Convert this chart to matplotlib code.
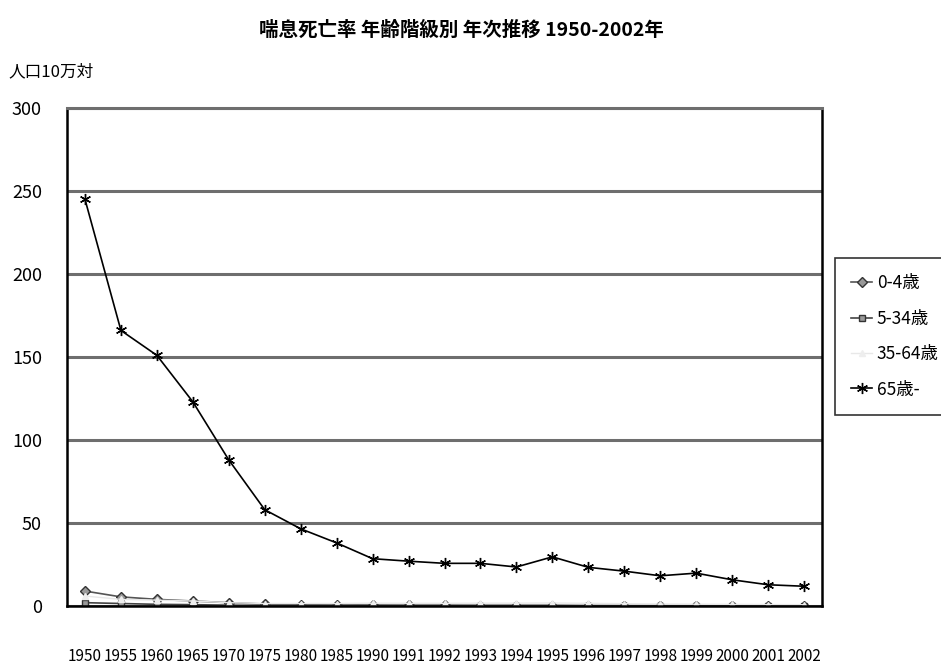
import matplotlib
matplotlib.use('Agg')
import matplotlib.pyplot as plt

plt.rcParams['font.family'] = ['Noto Sans CJK JP', 'DejaVu Sans']

years = ["1950", "1955", "1960", "1965", "1970", "1975", "1980", "1985", "1990", "1991", "1992",
         "1993", "1994", "1995", "1996", "1997", "1998", "1999", "2000", "2001", "2002"]

# 人口10万対
age_0_4 = [9.0, 5.5, 4.0, 3.0, 2.0, 1.2, 0.8, 0.6, 0.5, 0.4, 0.4,
           0.3, 0.3, 0.3, 0.2, 0.2, 0.2, 0.2, 0.1, 0.1, 0.1]
age_5_34 = [2.0, 1.5, 1.0, 0.8, 0.5, 0.4, 0.3, 0.3, 0.3, 0.3, 0.3,
            0.3, 0.3, 0.3, 0.2, 0.2, 0.2, 0.2, 0.2, 0.2, 0.2]
age_35_64 = [6.0, 4.0, 3.5, 3.0, 2.0, 1.5, 1.5, 1.5, 1.7, 1.6, 1.6,
             1.7, 1.7, 1.8, 1.6, 1.4, 1.2, 1.1, 1.0, 0.9, 0.8]
age_65 = [245, 166, 151, 123, 88, 58, 46.5, 38, 28.5, 27, 25.7,
          25.7, 23.5, 29.6, 23.3, 21, 18.2, 19.8, 15.8, 12.8, 11.9]

series_labels = ["0-4歳", "5-34歳", "35-64歳", "65歳-"]
y_ticks = [0, 50, 100, 150, 200, 250, 300]

fig = plt.figure(figsize=(9.41, 6.64), dpi=100)
ax = fig.add_axes([67 / 941, 1 - 606 / 664, 755 / 941, 498 / 664])

x = list(range(len(years)))
ax.plot(x, age_0_4, color='#555555', lw=1.2, marker='D', ms=5, mfc='#999999', mec='#333333',
        label=series_labels[0])
ax.plot(x, age_5_34, color='#444444', lw=1.2, marker='s', ms=5, mfc='#999999', mec='#333333',
        label=series_labels[1])
ax.plot(x, age_35_64, color='#e8e8e8', lw=1.0, marker='^', ms=4, mfc='#eeeeee', mec='#eeeeee',
        label=series_labels[2])
ax.plot(x, age_65, color='black', lw=1.2, marker=(6, 2, 0), ms=8, mew=1.0,
        label=series_labels[3])

ax.set_xlim(-0.5, len(years) - 0.5)
ax.set_ylim(0, 300)
ax.set_yticks(y_ticks)
ax.set_yticklabels([str(v) for v in y_ticks], fontsize=13)
ax.set_xticks(x)
ax.set_xticklabels(years, fontsize=11)
ax.tick_params(axis='x', length=0, pad=30)
ax.tick_params(axis='y', length=0, pad=18)

ax.yaxis.grid(True, color='#6e6e6e', lw=2.2)
ax.set_axisbelow(True)
for side in ['left', 'bottom', 'right']:
    ax.spines[side].set_color('black')
    ax.spines[side].set_linewidth(1.8)
ax.spines['top'].set_color('#6e6e6e')
ax.spines['top'].set_linewidth(2.2)

fig.text(0.49, 1 - 30 / 664, "喘息死亡率 年齢階級別 年次推移 1950-2002年",
         ha='center', va='center', fontsize=14, fontweight='bold')
fig.text(8 / 941, 1 - 72 / 664, "人口10万対", ha='left', va='center', fontsize=12)

leg = fig.legend(loc='upper left', bbox_to_anchor=(835 / 941, 1 - 258 / 664),
                 fontsize=12.5, frameon=True, fancybox=False, handlelength=1.2,
                 labelspacing=1.0, borderpad=0.95, borderaxespad=0.0, handletextpad=0.25)
leg.get_frame().set_edgecolor('black')
leg.get_frame().set_linewidth(1.2)

plt.savefig("out.png", dpi=100)
